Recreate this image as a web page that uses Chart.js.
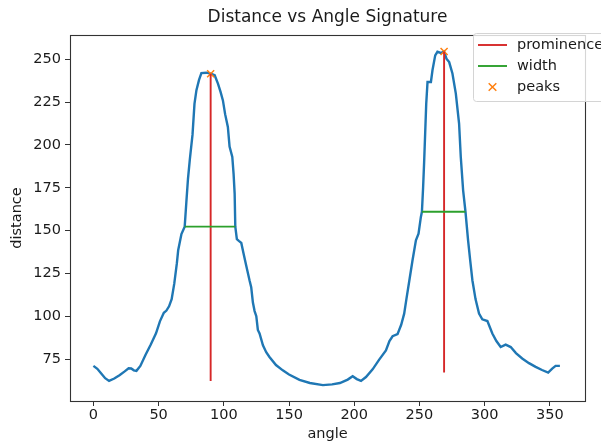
<!DOCTYPE html>
<html>
<head>
<meta charset="utf-8">
<script src="https://cdn.jsdelivr.net/npm/chart.js@4/dist/chart.umd.min.js"></script>
<style>
  html, body { margin: 0; padding: 0; background: #fff; }
  #wrap { width: 601px; height: 443px; position: relative; }
</style>
</head>
<body>
<div id="wrap"><canvas id="c" width="601" height="443"></canvas></div>
<script>
// ---- data ----
const angles = [0,3,6,9,12,16,20,24,27,29,31,33,36,40,44,48,51,54,56,58,60,62,64,65,67.5,70,71.3,72.5,74,76,77.5,79,81,82.8,86.6,89.9,93,95.5,97.5,99.3,101,103.1,104.4,106.5,107.5,108.3,108.8,110,111.5,113.4,115,117.2,119.7,121,122.3,123.6,124.9,126.1,127.4,130,132.5,135,140,145.2,150,158,166,176,183,189,195,198.8,202,205.2,209,214.1,219,224.3,227,229.4,233.2,236,238.3,240,242.5,244.7,247.3,249.3,251.1,251.9,252.8,253.6,254.4,255.2,256.2,258.8,260,262.1,263.8,266.4,268.9,270.7,272.8,275.3,277.9,280.4,281.7,283.5,285.3,287.3,289,290.6,293,295.7,298.2,302.1,305.9,309,312.3,316.1,320,324,328.8,334,339.1,344,348.7,351.8,354.4,357.7];
const distances = [71,69.3,66.5,63.8,62.2,63.6,65.6,67.8,69.6,69.5,68.4,68.1,71,77.5,83.5,90,97,102,103.3,105.8,110,119,131,138.5,148,152.3,167,180,192,206,224,232,238,242,242.2,241.6,240.7,235.8,231,226,218,210.5,199,193,183,171.6,152.3,145,144,142.8,137,129.5,121,117,108,103,100,92,89.9,83,79,76.2,71.5,68.4,66,62.8,61,59.8,60.2,61,63,65,63.3,62.2,64.5,69,74.5,80,85.5,88.3,89.5,95,101.5,110,122,132.7,144.3,148.2,158,161,175,190,207,224,236.8,236.8,243.6,252.3,254.4,253.7,254.6,250.4,248.4,241.7,230,212.5,193,173.5,161,144.3,132,121,110,101.5,98.2,97.2,89.9,85.5,82,83.4,82,78.5,75.3,72.6,70.4,68.6,67.1,69.4,71,71];

const peakAngles = [89.9, 268.9];
const peakValues = [241.6, 254.6];
const prominenceBases = [62.2, 67.1];
const widthHeights = [152.3, 161];
const widthLefts = [70, 251.9];
const widthRights = [108.8, 285.3];

const xTickValues = [0, 50, 100, 150, 200, 250, 300, 350];
const yTickValues = [75, 100, 125, 150, 175, 200, 225, 250];
const legendLabels = ['prominence', 'width', 'peaks'];
const chartTitle = 'Distance vs Angle Signature';

// ---- build datasets ----
const FONT = "'DejaVu Sans', sans-serif";
const FS = 14.5;
const datasets = [];
datasets.push({
  label: 'signature',
  data: angles.map((a, i) => ({ x: a, y: distances[i] })),
  showLine: true, borderColor: '#1f77b4', borderWidth: 2.4,
  pointRadius: 0, tension: 0, order: 4
});
datasets.push({
  label: 'peaks',
  data: peakAngles.map((a, i) => ({ x: a, y: peakValues[i] })),
  showLine: false, pointStyle: 'crossRot', pointRadius: 5,
  borderColor: '#ff7f0e', backgroundColor: '#ff7f0e', borderWidth: 1.5, order: 3
});
peakAngles.forEach((a, i) => {
  datasets.push({
    label: 'prominence',
    data: [{ x: a, y: prominenceBases[i] }, { x: a, y: peakValues[i] }],
    showLine: true, borderColor: '#d62728', borderWidth: 1.9, pointRadius: 0, order: 2
  });
  datasets.push({
    label: 'width',
    data: [{ x: widthLefts[i], y: widthHeights[i] }, { x: widthRights[i], y: widthHeights[i] }],
    showLine: true, borderColor: '#2ca02c', borderWidth: 1.9, pointRadius: 0, order: 1
  });
});

// frame + title + legend plugin
const framePlugin = {
  id: 'frame',
  afterDatasetsDraw(chart) {
    const { ctx, chartArea: a } = chart;
    ctx.save();
    ctx.strokeStyle = '#333';
    ctx.lineWidth = 1.1;
    ctx.strokeRect(Math.round(a.left) + 0.5, Math.round(a.top) + 0.5,
                   Math.round(a.right - a.left), Math.round(a.bottom - a.top));
    ctx.restore();
  },
  afterDraw(chart) {
    const ctx = chart.ctx;
    const a = chart.chartArea;
    ctx.save();
    // title centred over the plot area
    ctx.fillStyle = '#1a1a1a';
    ctx.font = '17px ' + FONT;
    ctx.textAlign = 'center';
    ctx.textBaseline = 'middle';
    ctx.fillText(chartTitle, (a.left + a.right) / 2, 18);

    const bx = 473.5, by = 33.5, bw = 150, bh = 68, r = 3;
    ctx.beginPath();
    ctx.moveTo(bx + r, by);
    ctx.lineTo(bx + bw - r, by);
    ctx.quadraticCurveTo(bx + bw, by, bx + bw, by + r);
    ctx.lineTo(bx + bw, by + bh - r);
    ctx.quadraticCurveTo(bx + bw, by + bh, bx + bw - r, by + bh);
    ctx.lineTo(bx + r, by + bh);
    ctx.quadraticCurveTo(bx, by + bh, bx, by + bh - r);
    ctx.lineTo(bx, by + r);
    ctx.quadraticCurveTo(bx, by, bx + r, by);
    ctx.closePath();
    ctx.fillStyle = 'rgba(255,255,255,0.8)';
    ctx.fill();
    ctx.strokeStyle = '#d4d4d4';
    ctx.lineWidth = 1;
    ctx.stroke();

    const rows = [45, 66, 87];
    ctx.lineWidth = 1.9;
    ctx.strokeStyle = '#d62728';
    ctx.beginPath(); ctx.moveTo(478, rows[0]); ctx.lineTo(507, rows[0]); ctx.stroke();
    ctx.strokeStyle = '#2ca02c';
    ctx.beginPath(); ctx.moveTo(478, rows[1]); ctx.lineTo(507, rows[1]); ctx.stroke();
    ctx.strokeStyle = '#ff7f0e';
    ctx.lineWidth = 1.5;
    const mx = 492.5, my = rows[2], s = 3.8;
    ctx.beginPath();
    ctx.moveTo(mx - s, my - s); ctx.lineTo(mx + s, my + s);
    ctx.moveTo(mx - s, my + s); ctx.lineTo(mx + s, my - s);
    ctx.stroke();

    ctx.fillStyle = '#1a1a1a';
    ctx.font = FS + 'px ' + FONT;
    ctx.textBaseline = 'middle';
    ctx.textAlign = 'left';
    legendLabels.forEach((t, i) => ctx.fillText(t, 517, rows[i] + 0.5));
    ctx.restore();
  }
};

Chart.defaults.color = '#1a1a1a';
Chart.defaults.font.family = FONT;
Chart.defaults.font.size = FS;

new Chart(document.getElementById('c'), {
  type: 'scatter',
  data: { datasets },
  plugins: [framePlugin],
  options: {
    responsive: false,
    animation: false,
    layout: { padding: { left: 0, right: 16, top: 35, bottom: 0 } },
    plugins: {
      legend: { display: false },
      tooltip: { enabled: false },
      title: { display: false }
    },
    scales: {
      x: {
        type: 'linear',
        min: -17.95, max: 376.95,
        afterBuildTicks(scale) { scale.ticks = xTickValues.map(v => ({ value: v })); },
        afterFit(scale) { scale.height = 42; },
        grid: { display: true, drawOnChartArea: false, drawTicks: true, tickLength: 5, color: '#333' },
        border: { display: false },
        ticks: { padding: 1, maxRotation: 0, color: '#1a1a1a', font: { size: FS } },
        title: { display: true, text: 'angle', color: '#1a1a1a', font: { size: FS }, padding: { top: 0, bottom: 0 } }
      },
      y: {
        type: 'linear',
        min: 50.5, max: 264.2,
        afterBuildTicks(scale) { scale.ticks = yTickValues.map(v => ({ value: v })); },
        afterFit(scale) { scale.width = 70; },
        grid: { display: true, drawOnChartArea: false, drawTicks: true, tickLength: 5, color: '#333' },
        border: { display: false },
        ticks: { padding: 4, color: '#1a1a1a', font: { size: FS } },
        title: { display: true, text: 'distance', color: '#1a1a1a', font: { size: FS }, padding: { top: 9, bottom: 0 } }
      }
    }
  }
});
</script>
</body>
</html>
